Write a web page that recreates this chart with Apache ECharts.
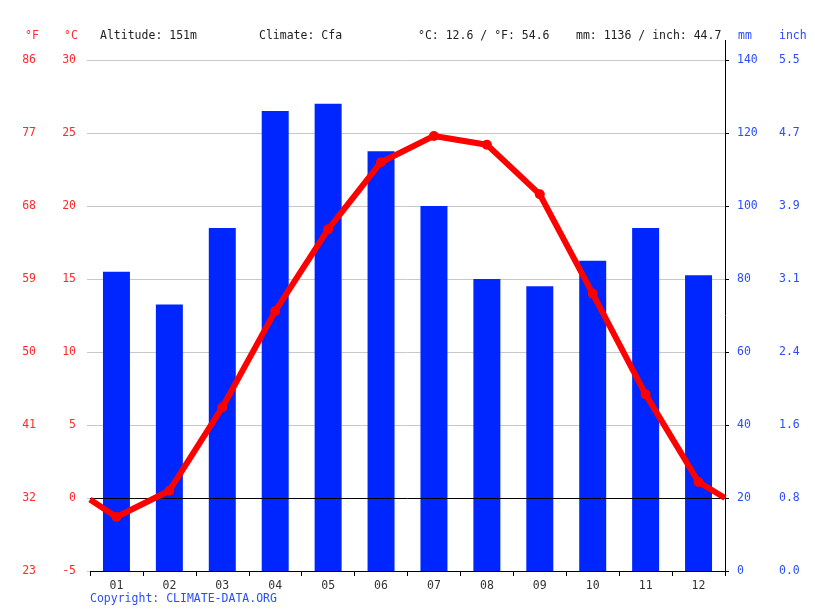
<!DOCTYPE html>
<html>
<head>
<meta charset="utf-8">
<script src="https://cdn.jsdelivr.net/npm/echarts@6/dist/echarts.min.js"></script>
<style>
html,body{margin:0;padding:0;background:#fff;}
#chart{width:815px;height:611px;}
</style>
</head>
<body>
<div id="chart"></div>
<script>
// ---- data ----
const months = ['01','02','03','04','05','06','07','08','09','10','11','12'];
const precipMm = [82, 73, 94, 126, 128, 115, 100, 80, 78, 85, 94, 81];
const tempC = [-1.3, 0.5, 6.2, 12.8, 18.4, 23.0, 24.8, 24.2, 20.8, 14.0, 7.1, 1.1];
const tempEdges = [-0.1, 0.0]; // line values at the left / right plot edges (read)
const altitude = '151m';
const climate = 'Cfa';
const meanTempC = '12.6';
const meanTempF = '54.6';
const totalMm = '1136';
const totalInch = '44.7';
const tempTicks = { min: -5, max: 30, interval: 5 };
const precipTicks = { min: 0, max: 140, interval: 20 };

const FONT = 'DejaVu Sans Mono';
const RED = '#ff0000';
const BLUE = '#0026ff';
const LBLUE = '#2b4dff';
const LRED = '#ff2a2a';

const lineData = [{ value: [0.5, tempEdges[0]], symbol: 'none' }]
  .concat(tempC.map((t, i) => ({ value: [i + 1, t] })))
  .concat([{ value: [12.5, tempEdges[1]], symbol: 'none' }]);

const chart = echarts.init(document.getElementById('chart'), null, { renderer: 'canvas' });

const txt = (x, y, s, color, align) => ({
  type: 'text', left: x, top: y, silent: true,
  style: { text: s, fill: color, font: '11.5px "' + FONT + '"', textAlign: align || 'left' }
});

chart.setOption({
  animation: false,
  backgroundColor: '#ffffff',
  grid: { left: 90, right: 90, top: 60, bottom: 40, containLabel: false },
  xAxis: [
    {
      type: 'category', data: months, boundaryGap: true,
      axisLine: { show: true, onZero: false, lineStyle: { color: '#000', width: 1 } },
      axisTick: { show: true, length: 5, lineStyle: { color: '#000' } },
      axisLabel: { color: '#333', fontFamily: FONT, fontSize: 11.5, margin: 9 },
      splitLine: { show: false }
    },
    {
      type: 'value', min: 0.5, max: 12.5, show: false
    }
  ],
  yAxis: [
    {
      type: 'value', position: 'left', ...tempTicks,
      axisLine: { show: false }, axisTick: { show: true, length: 3, lineStyle: { color: '#c8c8c8' } },
      axisLabel: { color: LRED, fontFamily: FONT, fontSize: 11.5, margin: 14 },
      splitLine: { show: true, lineStyle: { color: '#c8c8c8', width: 1 } }
    },
    {
      type: 'value', position: 'left', ...tempTicks,
      axisLine: { show: false }, axisTick: { show: false },
      axisLabel: { color: LRED, fontFamily: FONT, fontSize: 11.5, margin: 54,
        formatter: v => String(Math.round(v * 9 / 5 + 32)) },
      splitLine: { show: false }
    },
    {
      type: 'value', position: 'right', ...precipTicks,
      axisLine: { show: true, lineStyle: { color: '#000', width: 1 } },
      axisTick: { show: true, length: 4, lineStyle: { color: '#000' } },
      axisLabel: { color: LBLUE, fontFamily: FONT, fontSize: 11.5, margin: 12 },
      splitLine: { show: false }
    },
    {
      type: 'value', position: 'right', ...precipTicks,
      axisLine: { show: false }, axisTick: { show: false },
      axisLabel: { color: LBLUE, fontFamily: FONT, fontSize: 11.5, margin: 54,
        formatter: v => (v / 25.4).toFixed(1) },
      splitLine: { show: false }
    }
  ],
  series: [
    {
      type: 'bar', xAxisIndex: 0, yAxisIndex: 2, data: precipMm,
      barWidth: '51%', itemStyle: { color: BLUE }, silent: true
    },
    {
      type: 'line', xAxisIndex: 1, yAxisIndex: 0, data: lineData,
      symbol: 'circle', symbolSize: 10, z: 5,
      lineStyle: { color: RED, width: 6, join: 'round' },
      itemStyle: { color: RED },
      silent: true,
      markLine: {
        silent: true, symbol: 'none', label: { show: false },
        lineStyle: { color: '#000', width: 1, type: 'solid' },
        data: [{ yAxis: 0 }]
      }
    }
  ],
  graphic: [
    txt(25, 30, '°F', LRED),
    txt(64, 30, '°C', LRED),
    txt(100, 30, 'Altitude: ' + altitude, '#222'),
    txt(259, 30, 'Climate: ' + climate, '#222'),
    txt(418, 30, '°C: ' + meanTempC + ' / °F: ' + meanTempF, '#222'),
    txt(576, 30, 'mm: ' + totalMm + ' / inch: ' + totalInch, '#222'),
    txt(738, 30, 'mm', LBLUE),
    txt(779, 30, 'inch', LBLUE),
    txt(90, 593, 'Copyright: CLIMATE-DATA.ORG', LBLUE),
    { type: 'line', silent: true, shape: { x1: 725.5, y1: 40, x2: 725.5, y2: 60 },
      style: { stroke: '#000', lineWidth: 1 } }
  ]
});
</script>
</body>
</html>
